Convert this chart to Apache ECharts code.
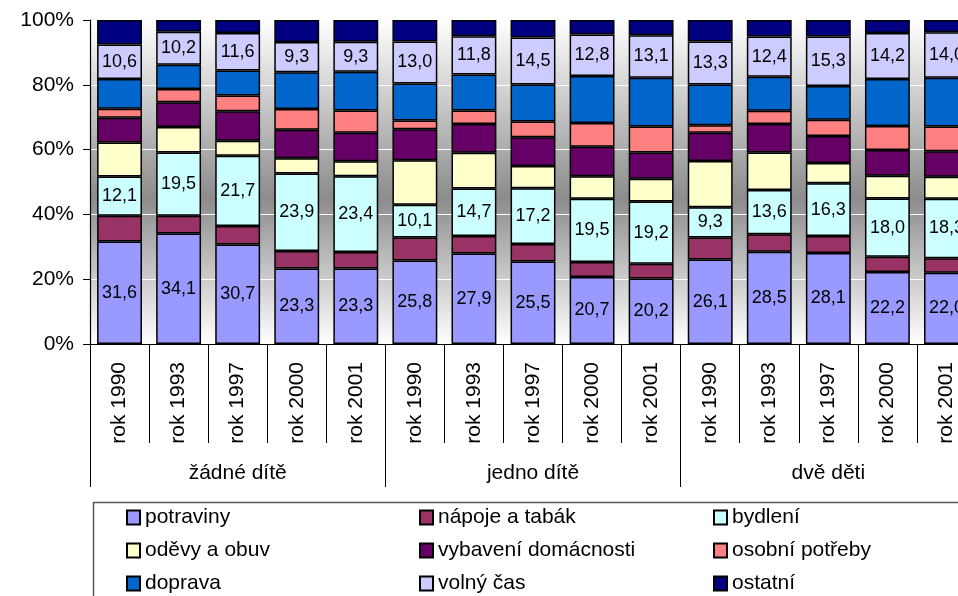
<!DOCTYPE html>
<html>
<head>
<meta charset="utf-8">
<title>Struktura výdajů domácností</title>
<script src="https://cdn.jsdelivr.net/npm/echarts@6/dist/echarts.min.js"></script>
<style>
    html, body { margin: 0; padding: 0; background: #fff; overflow: hidden; }
    #chart { width: 958px; height: 596px; }
</style>
</head>
<body>
<div id="chart"></div>
<script>
    // kategorie
    var groups = ['žádné dítě', 'jedno dítě', 'dvě děti'];
    var years = ['rok 1990', 'rok 1993', 'rok 1997', 'rok 2000', 'rok 2001'];
    var seriesNames = ['potraviny', 'nápoje a tabák', 'bydlení', 'oděvy a obuv', 'vybavení domácnosti',
        'osobní potřeby', 'doprava', 'volný čas', 'ostatní'];

    // hodnoty v %
    var potraviny = [31.6, 34.1, 30.7, 23.3, 23.3, 25.8, 27.9, 25.5, 20.7, 20.2, 26.1, 28.5, 28.1, 22.2, 22.0];
    var napoje    = [8.0, 5.5, 5.7, 5.4, 5.1, 7.1, 5.4, 5.4, 4.6, 4.6, 6.8, 5.4, 5.2, 4.7, 4.5];
    var bydleni   = [12.1, 19.5, 21.7, 23.9, 23.4, 10.1, 14.7, 17.2, 19.5, 19.2, 9.3, 13.6, 16.3, 18.0, 18.3];
    var odevy     = [10.5, 7.9, 4.6, 4.7, 4.6, 13.7, 11.0, 6.8, 7.0, 7.0, 14.3, 11.6, 6.3, 7.0, 6.8];
    var vybaveni  = [7.6, 7.6, 9.1, 8.8, 8.8, 9.6, 8.9, 8.9, 9.1, 8.1, 8.7, 8.8, 8.3, 8.0, 7.9];
    var osobni    = [2.8, 4.1, 4.9, 6.4, 6.9, 2.7, 4.2, 4.9, 7.3, 8.0, 2.3, 4.1, 5.0, 7.4, 7.6];
    var doprava   = [9.2, 7.5, 7.7, 11.4, 11.9, 11.4, 11.1, 11.4, 14.5, 15.1, 12.6, 10.5, 10.4, 14.5, 15.1];
    var volnyCas  = [10.6, 10.2, 11.6, 9.3, 9.3, 13.0, 11.8, 14.5, 12.8, 13.1, 13.3, 12.4, 15.3, 14.2, 14.0];
    var ostatni   = [7.6, 3.6, 4.0, 6.8, 6.7, 6.6, 5.0, 5.4, 4.5, 4.7, 6.6, 5.1, 5.1, 4.0, 3.8];
    var yTicks = ['0%', '20%', '40%', '60%', '80%', '100%'];

    var values = [potraviny, napoje, bydleni, odevy, vybaveni, osobni, doprava, volnyCas, ostatni];
    var colors = ['#9999FF', '#993366', '#CCFFFF', '#FFFFCC', '#660066', '#FF8080', '#0066CC', '#CCCCFF', '#000080'];
    var labelled = [0, 2, 7];

    var categories = [];
    groups.forEach(function () {
        years.forEach(function (y) { categories.push(y); });
    });

    var font = 'Liberation Sans, Arial, sans-serif';
    var chart = echarts.init(document.getElementById('chart'));

    var series = seriesNames.map(function (name, i) {
        return {
            name: name,
            type: 'bar',
            stack: 'total',
            xAxisIndex: 0,
            barWidth: '76%',
            data: values[i],
            itemStyle: { color: colors[i], borderColor: '#000', borderWidth: 1.5 },
            label: {
                show: labelled.indexOf(i) >= 0,
                position: 'inside',
                color: '#000',
                fontFamily: font,
                fontSize: 18,
                formatter: function (p) { return p.value.toFixed(1).replace('.', ','); }
            },
            animation: false
        };
    });

    var legendCol = function (left, idx) {
        return {
            orient: 'vertical',
            left: left,
            top: 507,
            padding: 0,
            icon: 'rect',
            itemWidth: 13,
            itemHeight: 14,
            itemGap: 12,
            itemStyle: { borderColor: '#000', borderWidth: 2 },
            textStyle: { fontFamily: font, fontSize: 21, color: '#000', lineHeight: 20 },
            data: idx.map(function (k) { return seriesNames[k]; })
        };
    };

    var option = {
        animation: false,
        grid: {
            left: 90, top: 20, width: 886, height: 324,
            containLabel: false,
            outerBoundsMode: 'none'
        },
        legend: [legendCol(126, [0, 3, 6]), legendCol(419, [1, 4, 7]), legendCol(713, [2, 5, 8])],
        graphic: [{
            // šedý přechod pozadí plochy grafu
            type: 'rect',
            left: 90, top: 20, z: -10,
            shape: { width: 886, height: 324 },
            style: {
                fill: new echarts.graphic.LinearGradient(0, 0, 0, 1, [
                    { offset: 0, color: '#ffffff' },
                    { offset: 0.55, color: '#8c8c8c' },
                    { offset: 1, color: '#ffffff' }
                ])
            },
            silent: true
        }, {
            type: 'rect',
            left: 91, top: 500,
            shape: { width: 900, height: 120 },
            style: { fill: 'none', stroke: '#555', lineWidth: 1.5 },
            silent: true
        }],
        xAxis: [{
            type: 'category',
            data: categories,
            position: 'bottom',
            axisLine: { lineStyle: { color: '#000', width: 1.2 } },
            axisTick: { show: true, interval: 0, length: 99, lineStyle: { color: '#000' } },
            axisLabel: { interval: 0, rotate: 90, margin: 18, fontFamily: font, fontSize: 21, color: '#000' }
        }, {
            type: 'category',
            data: groups,
            position: 'bottom',
            axisLine: { show: false },
            axisTick: { show: true, interval: 0, length: 143, lineStyle: { color: '#000' } },
            axisLabel: { interval: 0, margin: 119, fontFamily: font, fontSize: 21, color: '#000' }
        }],
        yAxis: {
            type: 'value',
            min: 0, max: 100, interval: 20,
            axisLine: { show: true, lineStyle: { color: '#000', width: 1.2 } },
            axisTick: { show: true, length: 7, lineStyle: { color: '#000' } },
            axisLabel: {
                margin: 16, fontFamily: font, fontSize: 21, color: '#000',
                formatter: function (v) { return yTicks[v / 20]; }
            },
            splitLine: { show: true, lineStyle: { color: '#ffffff', width: 1 } }
        },
        series: series
    };

    chart.setOption(option);
</script>
</body>
</html>
